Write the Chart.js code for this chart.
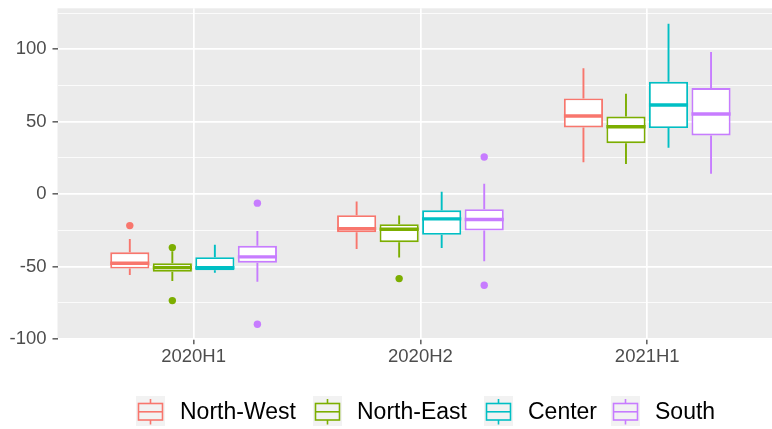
<!DOCTYPE html>
<html>
<head>
<meta charset="utf-8">
<script src="https://cdn.jsdelivr.net/npm/chart.js@4"></script>
<style>
html,body{margin:0;padding:0;background:#fff;}
canvas{display:block;}
</style>
</head>
<body>
<canvas id="c" width="772" height="429"></canvas>
<script>
// ---- data ----
const categories = ['2020H1', '2020H2', '2021H1'];
const seriesNames = ['North-West', 'North-East', 'Center', 'South'];
const colors = ['#F8766D', '#7CAE00', '#00BFC4', '#C77CFF'];

const nwLow = [-55.8, -37.8, 22.1];
const nwQ1 = [-51.4, -26.3, 46.0];
const nwMed = [-47.7, -23.8, 53.9];
const nwQ3 = [-40.1, -14.5, 66.1];
const nwHigh = [-30.9, -5.1, 87.0];
const nwOut = [[-21.7], [], []];

const neLow = [-59.9, -43.8, 20.9];
const neQ1 = [-53.5, -33.2, 35.2];
const neMed = [-50.7, -24.2, 46.5];
const neQ3 = [-47.7, -20.7, 53.6];
const neHigh = [-39.5, -14.8, 69.3];
const neOut = [[-36.9, -73.5], [-58.3], []];

const ceLow = [-54.2, -37.1, 32.0];
const ceQ1 = [-52.5, -28.1, 45.6];
const ceMed = [-50.7, -17.1, 61.5];
const ceQ3 = [-43.5, -11.1, 77.6];
const ceHigh = [-35.0, 1.6, 117.7];
const ceOut = [[], [], []];

const soLow = [-60.4, -46.3, 14.0];
const soQ1 = [-47.3, -25.1, 40.5];
const soMed = [-43.3, -17.5, 55.3];
const soQ3 = [-35.7, -10.4, 73.2];
const soHigh = [-25.4, 7.1, 98.1];
const soOut = [[-6.2, -89.8], [25.6, -62.9], []];

const yMajorTicks = [-100, -50, 0, 50, 100];
const yMinorTicks = [-75, -25, 25, 75, 125];

// ---- assemble ----
const stats = [
  {low: nwLow, q1: nwQ1, med: nwMed, q3: nwQ3, high: nwHigh, out: nwOut},
  {low: neLow, q1: neQ1, med: neMed, q3: neQ3, high: neHigh, out: neOut},
  {low: ceLow, q1: ceQ1, med: ceMed, q3: ceQ3, high: ceHigh, out: ceOut},
  {low: soLow, q1: soQ1, med: soMed, q3: soQ3, high: soHigh, out: soOut}
];
const groupWidth = 0.75;
const nS = seriesNames.length;
const LW = 1.9;

const datasets = [];
stats.forEach((s, si) => {
  datasets.push({
    type: 'bar',
    label: seriesNames[si],
    data: categories.map((c, i) => ({x: i, y: [s.q1[i], s.q3[i]]})),
    backgroundColor: '#FFFFFF',
    borderColor: colors[si],
    borderWidth: LW,
    borderSkipped: false,
    categoryPercentage: groupWidth,
    barPercentage: 0.92,
    order: 2
  });
});
stats.forEach((s, si) => {
  const pts = [];
  categories.forEach((c, i) => {
    const xOff = (si - (nS - 1) / 2) * groupWidth / nS;
    s.out[i].forEach(v => pts.push({x: i + xOff, y: v}));
  });
  datasets.push({
    type: 'scatter',
    label: seriesNames[si] + ' outliers',
    data: pts,
    backgroundColor: colors[si],
    borderColor: colors[si],
    pointRadius: 3.7,
    pointBorderWidth: 0,
    order: 1
  });
});

const FONT = '"Liberation Sans", Arial, Helvetica, sans-serif';

const bgPlugin = {
  id: 'panelBg',
  beforeDraw(chart) {
    const {ctx, chartArea: a} = chart;
    ctx.save();
    ctx.fillStyle = '#EBEBEB';
    ctx.fillRect(a.left, a.top, a.right - a.left, a.bottom - a.top);
    ctx.restore();
  }
};

const boxPlugin = {
  id: 'boxParts',
  beforeDatasetsDraw(chart) {
    const ctx = chart.ctx, y = chart.scales.y;
    ctx.save();
    stats.forEach((s, si) => {
      const meta = chart.getDatasetMeta(si);
      meta.data.forEach((bar, i) => {
        ctx.strokeStyle = colors[si];
        ctx.lineWidth = LW;
        ctx.beginPath();
        ctx.moveTo(bar.x, y.getPixelForValue(s.high[i]));
        ctx.lineTo(bar.x, y.getPixelForValue(s.q3[i]));
        ctx.moveTo(bar.x, y.getPixelForValue(s.q1[i]));
        ctx.lineTo(bar.x, y.getPixelForValue(s.low[i]));
        ctx.stroke();
      });
    });
    ctx.restore();
  },
  afterDatasetsDraw(chart) {
    const ctx = chart.ctx, y = chart.scales.y;
    ctx.save();
    stats.forEach((s, si) => {
      const meta = chart.getDatasetMeta(si);
      meta.data.forEach((bar, i) => {
        const py = y.getPixelForValue(s.med[i]);
        ctx.strokeStyle = colors[si];
        ctx.lineWidth = 3.4;
        ctx.beginPath();
        ctx.moveTo(bar.x - bar.width / 2, py);
        ctx.lineTo(bar.x + bar.width / 2, py);
        ctx.stroke();
      });
    });
    ctx.restore();
  }
};

const legendPlugin = {
  id: 'ggLegend',
  afterDraw(chart) {
    const ctx = chart.ctx;
    const keyX = [136, 313, 484, 611];
    const keyTop = 396, keyW = 29, keyH = 30;
    ctx.save();
    seriesNames.forEach((name, si) => {
      const kx = keyX[si];
      ctx.fillStyle = '#F2F2F2';
      ctx.fillRect(kx, keyTop, keyW, keyH);
      ctx.strokeStyle = colors[si];
      ctx.lineWidth = 1.6;
      const cx = kx + keyW / 2;
      ctx.beginPath();
      ctx.moveTo(cx, keyTop + 3); ctx.lineTo(cx, keyTop + 7.5);
      ctx.moveTo(cx, keyTop + 24); ctx.lineTo(cx, keyTop + 28.5);
      ctx.stroke();
      ctx.strokeRect(kx + 2.5, keyTop + 7.5, keyW - 5, 16.5);
      ctx.beginPath();
      ctx.moveTo(kx + 2.5, keyTop + 15.8); ctx.lineTo(kx + keyW - 2.5, keyTop + 15.8);
      ctx.stroke();
      ctx.fillStyle = '#000000';
      ctx.font = '23px ' + FONT;
      ctx.textBaseline = 'alphabetic';
      ctx.textAlign = 'left';
      ctx.fillText(name, kx + 44, 418.5);
    });
    ctx.restore();
  }
};

new Chart(document.getElementById('c'), {
  type: 'bar',
  data: {datasets},
  options: {
    responsive: false,
    animation: false,
    devicePixelRatio: 1,
    layout: {autoPadding: false, padding: {top: 8.3, right: 0, left: 0, bottom: 0}},
    plugins: {legend: {display: false}, tooltip: {enabled: false}},
    scales: {
      x: {
        type: 'linear',
        offset: false,
        min: -0.6,
        max: 2.55,
        afterBuildTicks(scale) { scale.ticks = categories.map((c, i) => ({value: i})); },
        afterFit(scale) { scale.height = 89.7; scale.paddingLeft = 0; scale.paddingRight = 0; },
        ticks: {
          callback: (v) => categories[v] ?? '',
          color: '#4D4D4D',
          font: {family: FONT, size: 18.5},
          padding: 2,
          maxRotation: 0,
          autoSkip: false
        },
        grid: {offset: false, color: '#FFFFFF', lineWidth: 1.7, tickLength: 5, tickColor: '#333333', tickWidth: 1.2},
        border: {display: false}
      },
      y: {
        type: 'linear',
        min: -100.2,
        max: 128.3,
        afterBuildTicks(scale) {
          scale.ticks = yMajorTicks.concat(yMinorTicks).sort((a, b) => a - b).map(v => ({value: v}));
        },
        afterFit(scale) { scale.width = 57.5; scale.paddingTop = 0; scale.paddingBottom = 0; },
        ticks: {
          callback: (v) => yMajorTicks.includes(v) ? String(v) : '',
          color: '#4D4D4D',
          font: {family: FONT, size: 18.5},
          padding: 6,
          autoSkip: false
        },
        grid: {
          color: '#FFFFFF',
          lineWidth: (c) => (c.tick && yMajorTicks.includes(c.tick.value)) ? 1.7 : 0.8,
          tickLength: 5,
          tickColor: (c) => (c.tick && yMajorTicks.includes(c.tick.value)) ? '#333333' : 'rgba(0,0,0,0)',
          tickWidth: 1.2
        },
        border: {display: false}
      }
    }
  },
  plugins: [bgPlugin, boxPlugin, legendPlugin]
});
</script>
</body>
</html>
